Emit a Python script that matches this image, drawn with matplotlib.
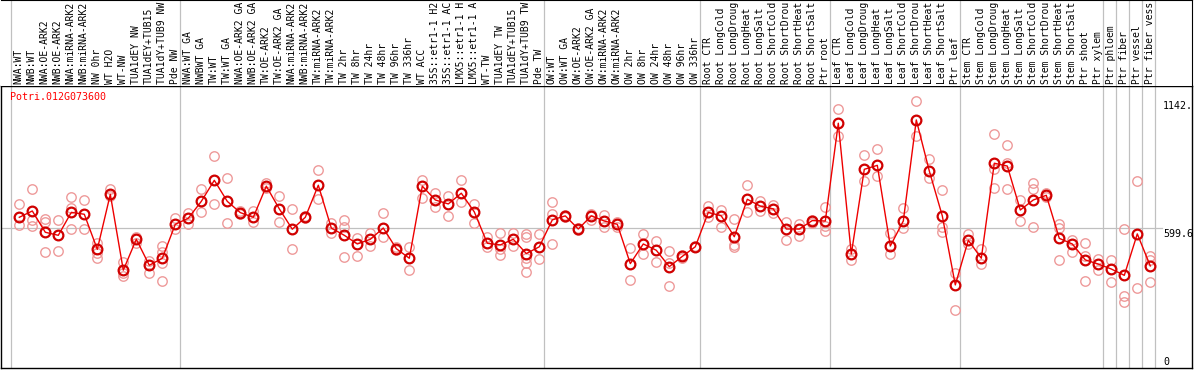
import matplotlib

matplotlib.use("Agg")
import matplotlib.pyplot as plt
import numpy as np

gene = "Potri.012G073600"

# header labels as far as they are visible in the chart
samples = [
    "NWA:WT", "NWB:WT", "NWA:OE-ARK2", "NWB:OE-ARK2", "NWA:miRNA-ARK2",
    "NWB:miRNA-ARK2", "NW 0hr", "WT H2O", "WT-NW", "TUA1dEY NW",
    "TUA1dEY+TUB15", "TUA1dY+TUB9 NW", "Pde NW",
    "NWA:WT GA", "NWBWT GA", "TW:WT", "TW:WT GA", "NWA:OE-ARK2 GA",
    "NWB:OE-ARK2 GA", "TW:OE-ARK2", "TW:OE-ARK2 GA", "NWA:miRNA-ARK2",
    "NWB:miRNA-ARK2", "TW:miRNA-ARK2", "TW:miRNA-ARK2", "TW 2hr",
    "TW 8hr", "TW 24hr", "TW 48hr", "TW 96hr", "TW 336hr", "WT ACC",
    "35S::etr1-1 H2", "35S::etr1-1 AC", "LMX5::etr1-1 H",
    "LMX5::etr1-1 A", "WT-TW", "TUA1dEY TW", "TUA1dEY+TUB15",
    "TUA1dY+TUB9 TW", "Pde TW",
    "OW:WT", "OW:WT GA", "OW:OE-ARK2", "OW:OE-ARK2 GA", "OW:miRNA-ARK2",
    "OW:miRNA-ARK2", "OW 2hr", "OW 8hr", "OW 24hr", "OW 48hr", "OW 96hr",
    "OW 336hr",
    "Root CTR", "Root LongCold", "Root LongDroug", "Root LongHeat",
    "Root LongSalt", "Root ShortCold", "Root ShortDrou", "Root ShortHeat",
    "Root ShortSalt", "Ptr root",
    "Leaf CTR", "Leaf LongCold", "Leaf LongDroug", "Leaf LongHeat",
    "Leaf LongSalt", "Leaf ShortCold", "Leaf ShortDrou", "Leaf ShortHeat",
    "Leaf ShortSalt", "Ptr leaf",
    "Stem CTR", "Stem LongCold", "Stem LongDroug", "Stem LongHeat",
    "Stem LongSalt", "Stem ShortCold", "Stem ShortDrou", "Stem ShortHeat",
    "Stem ShortSalt", "Ptr shoot", "Ptr xylem",
    "Ptr phloem", "Ptr fiber", "Ptr vessel", "Ptr fiber vess",
]

means = [
    644, 671, 580, 567, 665, 657, 507, 742, 418, 550, 439, 469, 614,
    640, 712, 802, 712, 664, 644, 777, 680, 593, 644, 781, 598, 567, 530,
    550, 598, 510, 469, 777, 718, 701, 747, 667, 533, 526, 550, 489, 518,
    633, 650, 594, 650, 628, 614, 446, 530, 503, 433, 477, 518,
    665, 650, 561, 721, 692, 680, 594, 594, 630, 628,
    1046, 487, 849, 866, 521, 628, 1060, 842, 650, 355,
    546, 469, 875, 863, 675, 718, 738, 554, 530, 462, 444,
    423, 396, 573, 436,
]

replicates = [
    [700, 612], [765, 633, 608], [636, 623, 494], [633, 499],
    [731, 683, 594], [718, 594], [533, 490, 469], [764, 735],
    [454, 405, 394], [561, 533], [459, 405], [523, 497, 447, 372],
    [640, 593], [664, 615], [765, 665], [906, 700], [812, 618],
    [672, 660], [672, 623], [789, 770], [735, 623], [680, 509],
    [650, 640], [846, 721], [618, 578], [633, 604, 473], [556, 479],
    [576, 521], [661, 561], [516, 505], [516, 418], [803, 725],
    [747, 687], [735, 650], [803, 711], [701, 618], [559, 516],
    [578, 507, 483], [578, 523], [573, 559, 469, 447, 409], [573, 465],
    [708, 658, 530], [655, 645], [590, 598], [658, 633], [654, 601],
    [625, 601], [512, 375], [573, 486], [544, 454], [501, 450, 350],
    [484, 470], [520, 515], [692, 647], [675, 604], [636, 526, 516],
    [781, 665], [715, 672], [697, 661], [624, 547], [615, 564],
    [633, 618], [689, 607, 587], [1107, 992], [507, 462], [910, 801],
    [935, 821], [578, 487], [683, 597], [1142, 992], [892, 811],
    [761, 601, 583], [407, 248], [573, 530], [510, 444],
    [1000, 852, 768], [953, 875, 765], [718, 628], [789, 764, 603],
    [749, 730], [614, 600, 460], [547, 497], [533, 480, 372], [466, 419],
    [462, 366], [593, 308, 283], [799, 341], [480, 462, 366],
]

# sample index after which a separator is drawn
group_breaks = [0, 13, 41, 53, 63, 73, 84, 85, 86, 87, 88]

y_top_label = 1142
y_mid_label = 599.6

W, H = 1194, 370
fig = plt.figure(figsize=(W / 100, H / 100), dpi=100)

font = {"family": "DejaVu Sans Mono", "size": 7.2}
hdr_font = {"family": "DejaVu Sans Mono", "size": 7.0}
grid_color = "#c0c0c0"
rep_color = "#ee9a9a"
mean_color = "#ee0000"

x_lo, x_hi = -0.408, 91.208

ax = fig.add_axes([1 / W, 2 / H, 1191 / W, 282 / H])
hdr = fig.add_axes([1 / W, 284 / H, 1191 / W, 86 / H])

x = np.arange(1, len(samples) + 1)

for b in group_breaks:
    ax.axvline(b + 0.338, color=grid_color, lw=0.9, zorder=1)
    hdr.axvline(b + 0.338, color=grid_color, lw=0.9, zorder=1)

ax.plot([x_lo, 88.9], [y_mid_label, y_mid_label], color=grid_color, lw=0.9, zorder=1)

for xi, reps in zip(x, replicates):
    ax.plot(
        np.full(len(reps), xi),
        reps,
        linestyle="none",
        marker="o",
        markersize=6.8,
        markerfacecolor="none",
        markeredgecolor=rep_color,
        markeredgewidth=1.0,
        zorder=2,
    )

ax.plot(x, means, color=mean_color, lw=1.0, zorder=3)
ax.plot(
    x,
    means,
    linestyle="none",
    marker="o",
    markersize=7,
    markerfacecolor="none",
    markeredgecolor="#d00000",
    markeredgewidth=1.6,
    zorder=4,
)

ax.set_xlim(x_lo, x_hi)
ax.set_ylim(0, 1205)
ax.set_xticks([])
ax.set_yticks([])
for spine in ax.spines.values():
    spine.set_color("black")
    spine.set_linewidth(1.0)

ax.text(9 / 1191, 1 - 11 / 282, gene, transform=ax.transAxes, color="red",
        ha="left", va="center", fontdict=font)

label_x = 88.98
ax.text(label_x, y_top_label, f"{y_top_label:g}.", ha="left", va="top",
        color="black", fontdict=font)
ax.text(label_x, y_mid_label - 5, f"{y_mid_label:g}", ha="left", va="top",
        color="black", fontdict=font)
ax.text(label_x, 4, "0", ha="left", va="bottom", color="black", fontdict=font)

hdr.set_xlim(x_lo, x_hi)
hdr.set_ylim(0, 1)
hdr.set_xticks([])
hdr.set_yticks([])
hdr.spines["left"].set_visible(False)
hdr.spines["bottom"].set_visible(False)
hdr.spines["top"].set_color("black")
hdr.spines["right"].set_color("black")

for xi, name in zip(x, samples):
    hdr.text(xi - 0.05, 2 / 86, name, rotation=90, ha="center", va="bottom",
             color="black", fontdict=hdr_font)

fig.savefig("out.png", dpi=100)
